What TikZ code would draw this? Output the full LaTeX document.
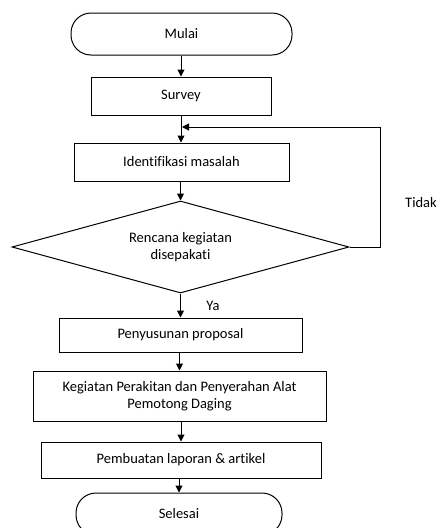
\documentclass[tikz,border=0pt]{standalone}
\usepackage{fontspec}
\setmainfont{Carlito}[Ligatures=NoCommon]
\usetikzlibrary{shapes.geometric,arrows.meta}
\begin{document}
\begin{tikzpicture}[x=1pt,y=-1pt,
  every node/.style={font=\fontsize{14.5}{17}\selectfont, text=black},
  box/.style={draw, rectangle, line width=1pt, inner sep=0pt, align=center},
  term/.style={draw, rectangle, rounded corners=20pt, line width=1pt, inner sep=0pt},
  dec/.style={draw, diamond, aspect=3.66, line width=1pt, inner sep=0pt, align=center, minimum width=337pt, minimum height=92pt},
  arr/.style={line width=1pt, -{Triangle[length=7pt,width=7pt]}}]
\useasboundingbox (0,0) rectangle (443,528);
\clip (0,0) rectangle (443,528);
\node[term, minimum width=221pt, minimum height=42pt] (mulai) at (181.5,34) {Mulai};
\node[box, minimum width=180pt, minimum height=38pt] (survey) at (181,96) {Survey};
\node[box, minimum width=215pt, minimum height=38pt] (ident) at (181.5,162) {Identifikasi masalah};
\node[dec] (dia) at (180.5,247) {Rencana kegiatan\\disepakati};
\node[box, minimum width=243pt, minimum height=34pt] (prop) at (180.5,335) {Penyusunan proposal};
\node[box, minimum width=293pt, minimum height=50pt] (keg) at (179.5,396) {Kegiatan Perakitan dan Penyerahan Alat\\Pemotong Daging};
\node[box, minimum width=280pt, minimum height=36pt] (lap) at (181,460) {Pembuatan laporan \& artikel};
\node[term, minimum width=206pt, minimum height=42pt] (sel) at (179,514) {Selesai};
\node (tidak) at (421,203) {Tidak};
\node (ya) at (213,306) {Ya};
\coordinate (c1) at (380,247);
\coordinate (c2) at (380,127);
\coordinate (c3) at (181,127);
\draw[arr] (mulai.south -| survey.north) -- (survey.north);
\draw[arr] (survey.south) -- (survey.south |- ident.north);
\draw[arr] (ident.south -| dia.north) -- (dia.north);
\draw[arr] (dia.south) -- (dia.south |- prop.north);
\draw[arr] (prop.south -| keg.north) -- (keg.north);
\draw[arr] (keg.south -| lap.north) -- (lap.north);
\draw[arr] (lap.south -| sel.north) -- (sel.north);
\draw[arr] (dia.east) -- (c1) -- (c2) -- ([xshift=1pt]c3);
\end{tikzpicture}
\end{document}
